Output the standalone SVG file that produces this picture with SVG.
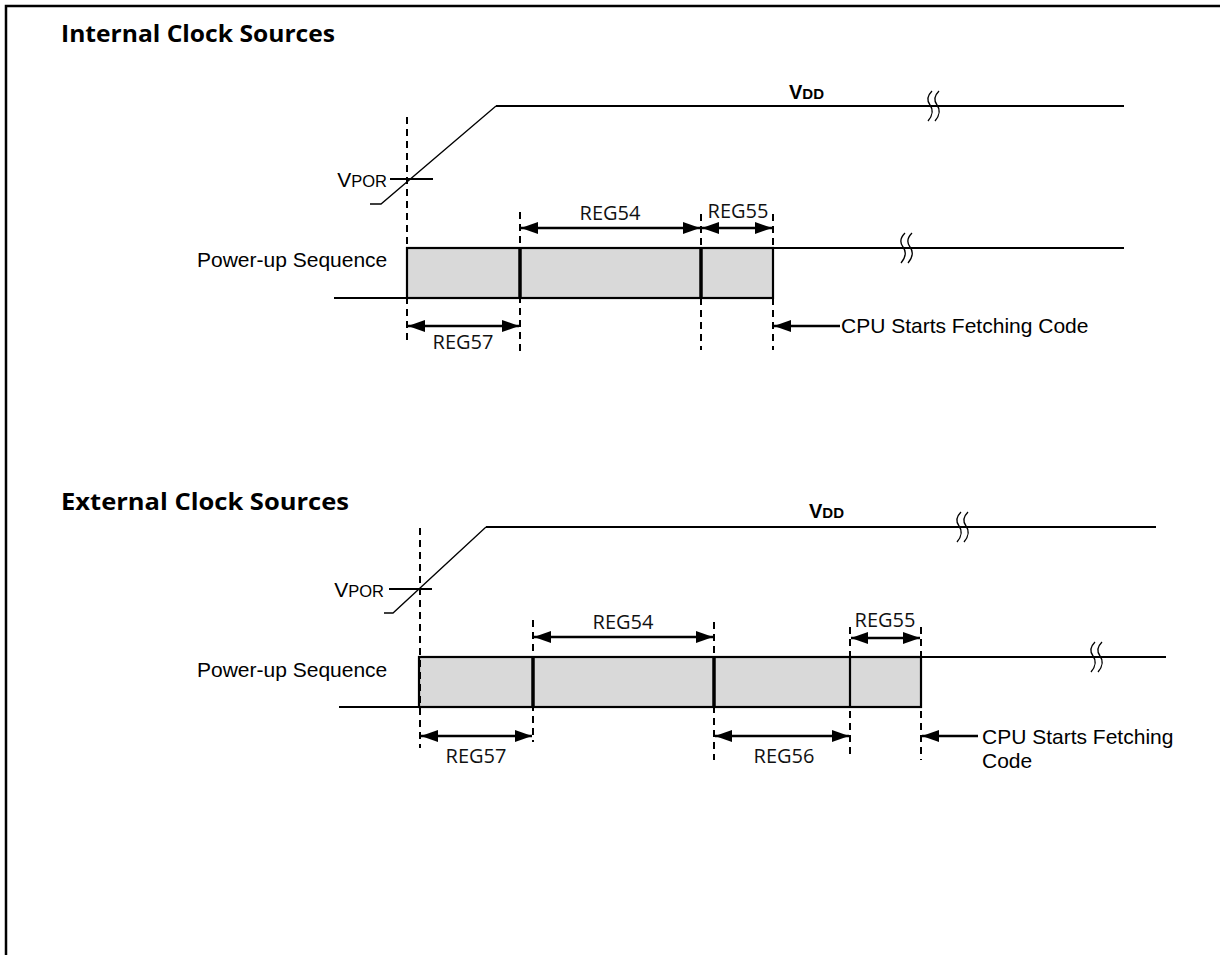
<svg xmlns="http://www.w3.org/2000/svg" width="1220" height="955" viewBox="0 0 1220 955">
<defs>
<marker id="ah" markerUnits="userSpaceOnUse" markerWidth="17" markerHeight="12" refX="17" refY="6" orient="auto-start-reverse">
<path d="M0,0 L17,6 L0,12 z" fill="#000"/>
</marker>
<path id="brk" d="M2,-15 C-3,-10 -3,-5 0,-1 C3,3 3,9 -2,15 M9,-15 C4,-10 4,-5 7,-1 C10,3 10,9 5,15" fill="none" stroke="#000" stroke-width="1.3"/>
</defs>
<style>
.title{font-family:"Open Sans","Liberation Sans",sans-serif;font-weight:bold;font-size:23px;fill:#000}
.reg{font-family:"Open Sans","Liberation Sans",sans-serif;font-size:20px;fill:#111}
.lbl{font-family:"Liberation Sans",Arial,sans-serif;font-size:21px;fill:#000}
.vdd{font-family:"Liberation Sans",Arial,sans-serif;font-weight:bold;fill:#000}
.sig{fill:none;stroke:#000;stroke-width:2.2}
.ramp{fill:none;stroke:#000;stroke-width:1.3}
.box{fill:#d9d9d9;stroke:#000;stroke-width:2.2}
.div{stroke:#000;stroke-width:3.5}
.thin{stroke:#000;stroke-width:2.2}
.dash{stroke:#000;stroke-width:2;stroke-dasharray:7,5;fill:none}
.arr{stroke:#000;stroke-width:2.5;fill:none}
</style>
<rect width="1220" height="955" fill="#fff"/>
<g id="frame">
<path d="M6,955 L6,6 L1220,6" fill="none" stroke="#000" stroke-width="2.5"/>
</g>

<g id="internal">
<text class="title" x="61" y="42" textLength="274" lengthAdjust="spacingAndGlyphs">Internal Clock Sources</text>
<g id="int-vdd">
<path class="ramp" d="M370,204 L381,204 L496,106"/>
<path class="sig" d="M496,106 L1124,106"/>
<use href="#brk" x="930" y="106"/>
<text class="vdd" x="789" y="99"><tspan font-size="20">V</tspan><tspan font-size="15">DD</tspan></text>
</g>
<g id="int-vpor">
<path class="sig" d="M390,179 L433,179"/>
<text class="lbl" x="387" y="187" text-anchor="end"><tspan font-size="21">V</tspan><tspan font-size="16.5">POR</tspan></text>
</g>
<g id="int-seq">
<text class="lbl" x="197" y="267">Power-up Sequence</text>
<rect class="box" x="407" y="248" width="366" height="50"/>
<path class="sig" d="M334,298 L407,298 M773,248 L1124,248"/>
<line class="div" x1="520" y1="248" x2="520" y2="298"/>
<line class="div" x1="701" y1="248" x2="701" y2="298"/>
<use href="#brk" x="903" y="248"/>
</g>
<g id="int-marks">
<line class="dash" x1="407" y1="117" x2="407" y2="345"/>
<line class="dash" x1="520" y1="212" x2="520" y2="352"/>
<line class="dash" x1="701" y1="214" x2="701" y2="350"/>
<line class="dash" x1="773" y1="214" x2="773" y2="350"/>
</g>
</g>

<g id="external">
<text class="title" x="61" y="510" textLength="288" lengthAdjust="spacingAndGlyphs">External Clock Sources</text>
<g id="ext-vdd">
<path class="ramp" d="M384,613 L393,613 L486,527"/>
<path class="sig" d="M486,527 L1156,527"/>
<use href="#brk" x="959" y="527"/>
<text class="vdd" x="809" y="518"><tspan font-size="20">V</tspan><tspan font-size="15">DD</tspan></text>
</g>
<g id="ext-vpor">
<path class="sig" d="M389,589 L432,589"/>
<text class="lbl" x="384" y="597" text-anchor="end"><tspan font-size="21">V</tspan><tspan font-size="16.5">POR</tspan></text>
</g>
<g id="ext-seq">
<text class="lbl" x="197" y="677">Power-up Sequence</text>
<rect class="box" x="419" y="657" width="502" height="50"/>
<path class="sig" d="M339,707 L419,707 M921,657 L1166,657"/>
<line class="div" x1="533" y1="657" x2="533" y2="707"/>
<line class="div" x1="714" y1="657" x2="714" y2="707"/>
<line class="thin" x1="850" y1="657" x2="850" y2="707"/>
<use href="#brk" x="1093" y="657"/>
</g>
<g id="ext-marks">
<line class="dash" x1="420" y1="528" x2="420" y2="748"/>
<line class="dash" x1="533" y1="620" x2="533" y2="742"/>
<line class="dash" x1="714" y1="622" x2="714" y2="760"/>
<line class="dash" x1="850" y1="627" x2="850" y2="758"/>
<line class="dash" x1="921" y1="627" x2="921" y2="760"/>
</g>
</g>

<g id="connectors">
<line class="arr" x1="521" y1="228" x2="700" y2="228" marker-start="url(#ah)" marker-end="url(#ah)"/>
<line class="arr" x1="702" y1="228" x2="772" y2="228" marker-start="url(#ah)" marker-end="url(#ah)"/>
<line class="arr" x1="408" y1="326" x2="519" y2="326" marker-start="url(#ah)" marker-end="url(#ah)"/>
<line class="arr" x1="840" y1="326" x2="774" y2="326" marker-end="url(#ah)"/>
<line class="arr" x1="534" y1="637" x2="713" y2="637" marker-start="url(#ah)" marker-end="url(#ah)"/>
<line class="arr" x1="851" y1="638" x2="920" y2="638" marker-start="url(#ah)" marker-end="url(#ah)"/>
<line class="arr" x1="421" y1="736" x2="532" y2="736" marker-start="url(#ah)" marker-end="url(#ah)"/>
<line class="arr" x1="715" y1="736" x2="849" y2="736" marker-start="url(#ah)" marker-end="url(#ah)"/>
<line class="arr" x1="978" y1="736" x2="922" y2="736" marker-end="url(#ah)"/>
</g>

<g id="labels">
<text class="reg" x="610" y="220" text-anchor="middle">REG54</text>
<text class="reg" x="738" y="218" text-anchor="middle">REG55</text>
<text class="reg" x="463" y="349" text-anchor="middle">REG57</text>
<text class="lbl" x="841" y="333">CPU Starts Fetching Code</text>
<text class="reg" x="623" y="629" text-anchor="middle">REG54</text>
<text class="reg" x="885" y="627" text-anchor="middle">REG55</text>
<text class="reg" x="476" y="763" text-anchor="middle">REG57</text>
<text class="reg" x="784" y="763" text-anchor="middle">REG56</text>
<text class="lbl" x="982" y="744">CPU Starts Fetching</text>
<text class="lbl" x="982" y="768">Code</text>
</g>
</svg>
